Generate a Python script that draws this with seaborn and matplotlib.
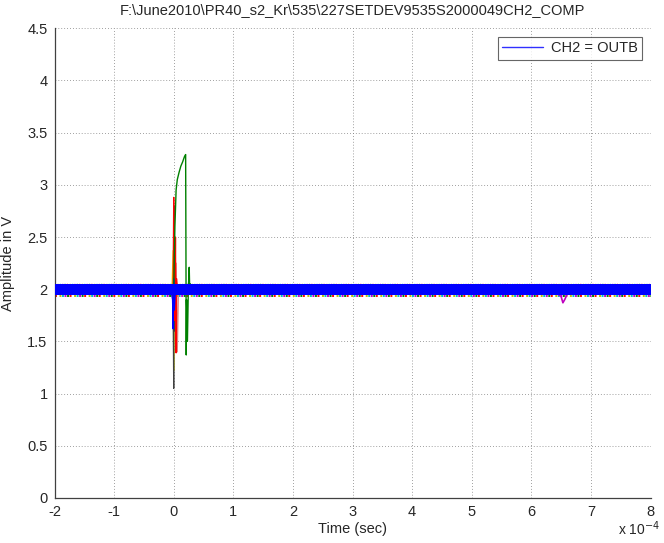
import matplotlib
matplotlib.use("Agg")
import matplotlib.pyplot as plt
import seaborn as sns
import pandas as pd

# ---- data (time in units of 1e-4 s, amplitude in V) ----
band_time = [-2.0, 8.0]
band_upper = [2.05, 2.05]
band_lower = [1.94, 1.94]

t_green = [-0.05, 0.0, 0.02, 0.04, 0.06, 0.09, 0.12, 0.15, 0.18, 0.2, 0.205, 0.21, 0.215, 0.23, 0.245, 0.26, 0.27, 0.28, 0.3, 0.35]
v_green = [2.0, 1.98, 2.6, 2.95, 3.05, 3.12, 3.18, 3.22, 3.27, 3.29, 2.4, 1.37, 1.9, 1.5, 2.0, 2.21, 1.95, 2.05, 2.0, 2.0]

t_red = [-0.03, -0.01, 0.0, 0.01, 0.02, 0.03, 0.04, 0.05, 0.07, 0.1]
v_red = [2.0, 2.05, 2.88, 2.2, 1.7, 2.5, 1.39, 2.1, 1.95, 2.0]

t_dark = [-0.03, -0.01, 0.0, 0.005, 0.01, 0.02, 0.04]
v_dark = [2.0, 1.9, 1.05, 2.8, 1.6, 2.1, 2.0]

t_yellow = [-0.03, -0.01, 0.0, 0.01, 0.02, 0.04]
v_yellow = [2.0, 2.37, 1.22, 2.2, 1.9, 2.0]

t_pink = [-0.03, 0.0, 0.02, 0.04, 0.06, 0.08]
v_pink = [2.0, 2.2, 1.5, 2.25, 1.4, 2.0]

t_bluespike = [-0.05, -0.02, -0.01, 0.0, 0.01, 0.03]
v_bluespike = [2.0, 1.9, 1.62, 2.1, 1.8, 2.0]

t_magenta = [6.45, 6.5, 6.53, 6.56, 6.6]
v_magenta = [1.95, 1.93, 1.87, 1.9, 1.95]

x_ticks = [-2, -1, 0, 1, 2, 3, 4, 5, 6, 7, 8]
y_ticks = [0, 0.5, 1, 1.5, 2, 2.5, 3, 3.5, 4, 4.5]
title_text = r"F:\June2010\PR40_s2_Kr\535\227SETDEV9535S2000049CH2_COMP"
legend_label = "CH2 = OUTB"

# ---- plotting ----
sns.set_style("white")
plt.rcParams["font.family"] = ["Liberation Sans", "DejaVu Sans"]
plt.rcParams["font.size"] = 10

fig = plt.figure(figsize=(6.64, 5.43), dpi=100)
ax = fig.add_axes([0.0821, 0.0829, 0.8976, 0.8651])

# fringe speckles of other traces along band edges
fringe_cols = ["#ff0000", "#008000", "#bf00bf", "#00bfbf", "#bfbf00"]
for i, c in enumerate(fringe_cols):
    ax.plot(band_time, [1.932, 1.932], color=c, lw=1.4, ls=(i * 1.3, (1.0, 6.5)), zorder=2)
    ax.plot(band_time, [2.052, 2.052], color=c, lw=1.0, ls=(i * 1.7 + 0.6, (0.8, 8.0)), zorder=2)

# transient traces
def trace(t, v, color, lw=0.9, z=3):
    df = pd.DataFrame({"t": t, "v": v})
    sns.lineplot(data=df, x="t", y="v", color=color, lw=lw, ax=ax, zorder=z,
                 sort=False, estimator=None, legend=False)

trace(t_pink, v_pink, "#e08080")
trace(t_yellow, v_yellow, "#e6e600")
trace(t_dark, v_dark, "#404040")
trace(t_red, v_red, "#ff0000")
trace(t_bluespike, v_bluespike, "#0000ff")
trace(t_green, v_green, "#008000", lw=1.0)
trace(t_magenta, v_magenta, "#bf00bf", lw=1.2)

# main blue band
ax.fill_between(band_time, band_lower, band_upper, color="#0000ff", lw=0, zorder=4)
leg_line, = ax.plot([], [], color="#3030ff", lw=1.0, label=legend_label)

ax.set_xlim(-2, 8)
ax.set_ylim(0, 4.5)
ax.set_xticks(x_ticks)
ax.set_yticks(y_ticks)
ax.set_xticklabels([str(x) for x in x_ticks])
ax.set_yticklabels([("%g" % y) for y in y_ticks])
ax.grid(True, color="#808080", ls=(0, (1, 2.5)), lw=0.6)
for s in ["top", "right"]:
    ax.spines[s].set_visible(False)
for s in ["left", "bottom"]:
    ax.spines[s].set_color("#404040")
    ax.spines[s].set_linewidth(0.9)
ax.tick_params(direction="in", length=4, color="#404040", labelsize=10.5, pad=5)

ax.set_xlabel("Time (sec)", fontsize=10.5)
ax.xaxis.set_label_coords(0.5, -0.052)
ax.set_ylabel("Amplitude in V", fontsize=10.5)
ax.yaxis.set_label_coords(-0.066, 0.5)
ax.set_title(title_text, fontsize=10.5, pad=10)
fig.text(0.930, 0.026, r"x 10$^{-4}$", fontsize=10, va="center")

leg = ax.legend(handles=[leg_line], loc="upper right", frameon=True, fancybox=False,
                fontsize=10.5, borderpad=0.3, handlelength=2.8, handletextpad=0.5,
                borderaxespad=0.6)
leg.get_frame().set_edgecolor("#404040")
leg.get_frame().set_linewidth(0.8)

fig.savefig("out.png", dpi=100)
